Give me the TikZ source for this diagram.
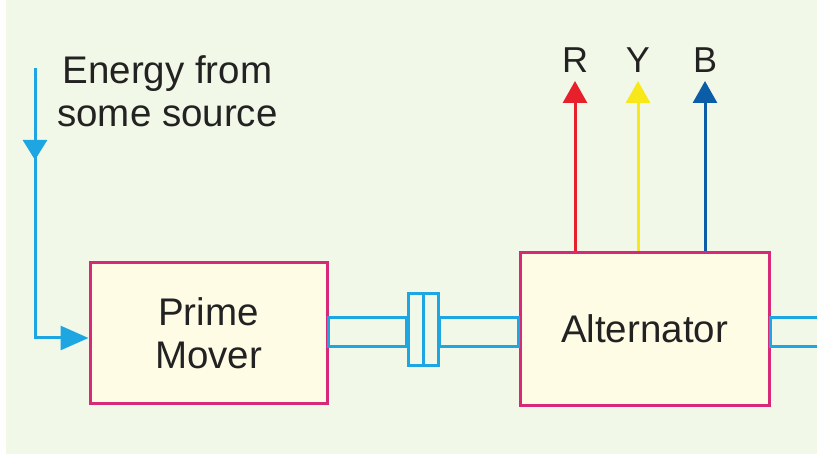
\documentclass[tikz,border=0pt]{standalone}
\usepackage{fontspec}
\setmainfont{Liberation Sans}
\usetikzlibrary{arrows.meta}
\definecolor{bgc}{HTML}{F2F8E8}
\definecolor{boxfill}{HTML}{FFFCE6}
\definecolor{boxline}{HTML}{D62A78}
\definecolor{shaftc}{HTML}{1EA6E2}
\definecolor{rc}{HTML}{E8202C}
\definecolor{yc}{HTML}{F8E81A}
\definecolor{bc}{HTML}{0B5DA8}
\definecolor{txt}{HTML}{222222}
\begin{document}
\begin{tikzpicture}[x=1pt,y=-1pt,
  bigtext/.style={font=\fontsize{38.5}{43}\selectfont, text=txt},
  blockbox/.style={draw=boxline, fill=boxfill, line width=3pt, bigtext, align=center, inner sep=0pt},
  shaft/.style={draw=shaftc, line width=3pt},
  energy/.style={draw=shaftc, line width=3pt},
  phase/.style={line width=3pt},
  lbl/.style={font=\fontsize{36}{40}\selectfont, text=txt, inner sep=0pt, anchor=base}
]
\useasboundingbox (0,0) rectangle (817,454);
\fill[bgc] (0,0) rectangle (817,454);
\fill[white] (0,0) rectangle (6,454);
\begin{scope}
\clip (0,0) rectangle (817,454);
% boxes
\node[blockbox, minimum width=237pt, minimum height=140pt] (pm) at (208.5,333) {Prime\\Mover};
\node[blockbox, minimum width=249pt, minimum height=152pt] (alt) at (644.5,329) {Alternator};
% coupling
\node[draw=shaftc, line width=3pt, fill=bgc, minimum width=30pt, minimum height=72pt, inner sep=0pt] (cp) at (423,330) {};
\draw[shaft] (cp.north) -- (cp.south);
% shafts
\coordinate (s1a) at (327,318);
\coordinate (s1b) at (408,347);
\draw[shaft] (s1a -| pm.east) rectangle (s1b -| cp.west);
\draw[shaft] (s1a -| cp.east) rectangle (s1b -| alt.west);
\draw[shaft] (s1a -| alt.east) rectangle (830,347);
% energy input
\coordinate (src) at (35,68);
\coordinate (mid) at (35,160);
\coordinate (mid2) at (35,156);
\draw[energy, -{Triangle[length=20pt,width=24pt]}] (src) -- (mid);
\draw[energy, -{Triangle[length=28pt,width=24pt]}] (mid2) |- ([yshift=-5pt]pm.west);
\node[bigtext, align=center, anchor=north, inner sep=0pt] (etext) at (167.5,55) {Energy from\\some source};
% phases
\node[lbl] (R) at (575,73) {R};
\node[lbl] (Y) at (638,73) {Y};
\node[lbl] (B) at (705,73) {B};
\draw[phase, rc, -{Triangle[length=22pt,width=24pt]}] (alt.north -| R.base) -- ([yshift=-8pt]R.base);
\draw[phase, yc, -{Triangle[length=22pt,width=24pt]}] (alt.north -| Y.base) -- ([yshift=-8pt]Y.base);
\draw[phase, bc, -{Triangle[length=22pt,width=24pt]}] (alt.north -| B.base) -- ([yshift=-8pt]B.base);
\end{scope}
\end{tikzpicture}
\end{document}
